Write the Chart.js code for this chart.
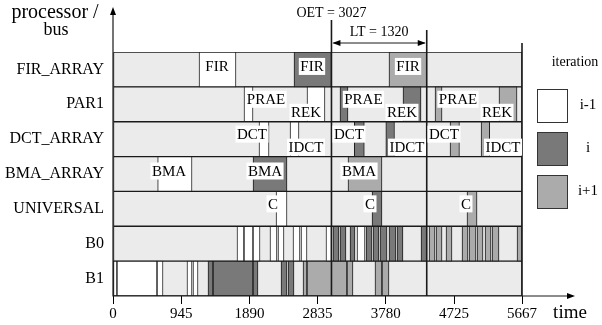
<!DOCTYPE html>
<html>
<head>
<meta charset="utf-8">
<script src="https://cdn.jsdelivr.net/npm/chart.js@4.4.0/dist/chart.umd.min.js"></script>
<style>
  html, body { margin: 0; padding: 0; background: #fff; }
  #wrap { width: 602px; height: 325px; }
</style>
</head>
<body>
<div id="wrap"><canvas id="gantt"></canvas></div>
<script>
// processors / buses and time axis
const rows = ['FIR_ARRAY', 'PAR1', 'DCT_ARRAY', 'BMA_ARRAY', 'UNIVERSAL', 'B0', 'B1'];
const xTicks = [0, 945, 1890, 2835, 3780, 4725, 5667];
const scheduleEnd = 5667;
const oet = 3027;
const lt = 1320;

// [row, start, end] for each iteration
const iterPrev = [
    ['FIR_ARRAY', 1192, 1704],
    ['PAR1', 1815, 1940], ['PAR1', 2688, 2937],
    ['DCT_ARRAY', 2023, 2162], ['DCT_ARRAY', 2453, 2577],
    ['BMA_ARRAY', 619, 1095],
    ['UNIVERSAL', 2259, 2411],
    ['B0', 1718, 1815], ['B0', 1815, 1940], ['B0', 1940, 2037], ['B0', 2175, 2272],
    ['B0', 2286, 2369], ['B0', 2494, 2591], ['B0', 2605, 2688], ['B0', 2951, 3027],
    ['B0', 3381, 3492],
    ['B1', 0, 55], ['B1', 55, 610], ['B1', 610, 693], ['B1', 1025, 1095], ['B1', 1108, 1178]
];
const iterCur = [
    ['FIR_ARRAY', 2508, 3027],
    ['PAR1', 3145, 3256], ['PAR1', 4018, 4268],
    ['DCT_ARRAY', 3343, 3482], ['DCT_ARRAY', 3780, 3900],
    ['BMA_ARRAY', 1940, 2411],
    ['UNIVERSAL', 3589, 3727],
    ['B0', 3048, 3131], ['B0', 3145, 3228], ['B0', 3284, 3353], ['B0', 3506, 3589],
    ['B0', 3603, 3685], ['B0', 3699, 3797], ['B0', 3824, 3921], ['B0', 3935, 4018],
    ['B0', 4268, 4347],
    ['B1', 1316, 1386], ['B1', 1386, 1940], ['B1', 1940, 2009], ['B1', 2328, 2411], ['B1', 2425, 2508]
];
const iterNext = [
    ['FIR_ARRAY', 3824, 4347],
    ['PAR1', 4462, 4559], ['PAR1', 5348, 5598],
    ['DCT_ARRAY', 4670, 4800], ['DCT_ARRAY', 5100, 5220],
    ['BMA_ARRAY', 3256, 3727],
    ['UNIVERSAL', 4905, 5044],
    ['B0', 4379, 4462], ['B0', 4476, 4559], ['B0', 4614, 4697], ['B0', 4836, 4919],
    ['B0', 4933, 5030], ['B0', 5044, 5127], ['B0', 5155, 5238], ['B0', 5252, 5348],
    ['B0', 5598, 5667],
    ['B1', 2633, 2688], ['B1', 2688, 3242], ['B1', 3242, 3325], ['B1', 3630, 3727], ['B1', 3727, 3824]
];

// task names: [text, time, row, place]
const taskLabels = [
    ['FIR', 1441, 'FIR_ARRAY', 'mid'], ['FIR', 2757, 'FIR_ARRAY', 'mid'], ['FIR', 4088, 'FIR_ARRAY', 'mid'],
    ['PRAE', 2120, 'PAR1', 'top'], ['REK', 2674, 'PAR1', 'bot'],
    ['PRAE', 3470, 'PAR1', 'top'], ['REK', 4004, 'PAR1', 'bot'],
    ['PRAE', 4780, 'PAR1', 'top'], ['REK', 5321, 'PAR1', 'bot'],
    ['DCT', 1926, 'DCT_ARRAY', 'top'], ['IDCT', 2674, 'DCT_ARRAY', 'bot'],
    ['DCT', 3270, 'DCT_ARRAY', 'top'], ['IDCT', 4074, 'DCT_ARRAY', 'bot'],
    ['DCT', 4586, 'DCT_ARRAY', 'top'], ['IDCT', 5404, 'DCT_ARRAY', 'bot'],
    ['BMA', 776, 'BMA_ARRAY', 'mid'], ['BMA', 2106, 'BMA_ARRAY', 'mid'], ['BMA', 3409, 'BMA_ARRAY', 'mid'],
    ['C', 2217, 'UNIVERSAL', 'top'], ['C', 3561, 'UNIVERSAL', 'top'], ['C', 4891, 'UNIVERSAL', 'top']
];

const SERIF = '"Liberation Serif", "DejaVu Serif", serif';
const LINE = '#1a1a1a';
const COL_IDLE = '#ebebeb', COL_PREV = '#ffffff', COL_CUR = '#797979', COL_NEXT = '#ababab';

function toBars(list) {
    return list.map(s => ({ y: s[0], x: [s[1], s[2]] }));
}

function arrowHead(ctx, x, y, dir) {
    ctx.beginPath();
    if (dir === 'up') { ctx.moveTo(x, y); ctx.lineTo(x - 3, y + 8); ctx.lineTo(x + 3, y + 8); }
    if (dir === 'right') { ctx.moveTo(x, y); ctx.lineTo(x - 8, y - 3); ctx.lineTo(x - 8, y + 3); }
    if (dir === 'left') { ctx.moveTo(x, y); ctx.lineTo(x + 8, y - 3); ctx.lineTo(x + 8, y + 3); }
    ctx.closePath();
    ctx.fill();
}

const overlay = {
    id: 'overlay',
    afterDatasetsDraw(chart) {
        const ctx = chart.ctx;
        const xs = chart.scales.x, ys = chart.scales.y;
        const area = chart.chartArea;
        const px = v => xs.getPixelForValue(v);
        ctx.save();
        ctx.strokeStyle = LINE;
        ctx.fillStyle = '#000';

        // marker lines
        ctx.lineWidth = 1.6;
        [[oet, 20], [oet + lt, 30], [scheduleEnd, 43]].forEach(([v, top]) => {
            ctx.beginPath();
            ctx.moveTo(px(v), top);
            ctx.lineTo(px(v), area.bottom);
            ctx.stroke();
        });

        // LT arrow
        ctx.lineWidth = 1;
        ctx.beginPath();
        ctx.moveTo(px(oet) + 2, 43);
        ctx.lineTo(px(oet + lt) - 2, 43);
        ctx.stroke();
        arrowHead(ctx, px(oet) + 1, 43, 'left');
        arrowHead(ctx, px(oet + lt) - 1, 43, 'right');

        ctx.font = '14px ' + SERIF;
        ctx.textAlign = 'center';
        ctx.textBaseline = 'middle';
        ctx.fillText('OET = ' + oet, px(oet), 13);
        ctx.fillText('LT = ' + lt, (px(oet) + px(oet + lt)) / 2, 32);

        // task names on white plates
        ctx.font = '15px ' + SERIF;
        const shift = { top: -5, mid: -3, bot: 8 };
        taskLabels.forEach(([text, t, row, place]) => {
            const cx = px(t);
            const cy = ys.getPixelForValue(rows.indexOf(row)) + shift[place];
            const w = ctx.measureText(text).width + 3;
            ctx.fillStyle = '#fff';
            ctx.fillRect(cx - w / 2, cy - 8.5, w, 17);
            ctx.fillStyle = '#000';
            ctx.fillText(text, cx, cy + 1);
        });

        // axes with arrows
        ctx.lineWidth = 1.2;
        ctx.beginPath();
        ctx.moveTo(area.left, 12);
        ctx.lineTo(area.left, area.bottom);
        ctx.lineTo(573, area.bottom);
        ctx.stroke();
        arrowHead(ctx, area.left, 7, 'up');
        arrowHead(ctx, 575, area.bottom, 'right');

        ctx.font = '20px ' + SERIF;
        ctx.fillText('processor /', 55, 13);
        ctx.font = '18px ' + SERIF;
        ctx.fillText('bus', 56, 30);
        ctx.font = '19px ' + SERIF;
        ctx.fillText('time', 570, 313);

        // iteration legend
        ctx.font = '14px ' + SERIF;
        ctx.fillText('iteration', 575, 62);
        ctx.font = '15px ' + SERIF;
        [[COL_PREV, 'i-1', 89], [COL_CUR, 'i', 132], [COL_NEXT, 'i+1', 175]].forEach(([c, t, y0]) => {
            ctx.fillStyle = c;
            ctx.fillRect(537, y0, 30, 33);
            ctx.strokeStyle = '#333';
            ctx.lineWidth = 1;
            ctx.strokeRect(537.5, y0 + 0.5, 30, 33);
            ctx.fillStyle = '#000';
            ctx.fillText(t, 588, y0 + 16);
        });
        ctx.restore();
    }
};

const barStyle = { borderColor: LINE, borderWidth: 1, borderSkipped: false };

// first dataset is painted last, so the idle background goes at the end
new Chart(document.getElementById('gantt').getContext('2d'), {
    type: 'bar',
    data: {
        labels: rows,
        datasets: [
            { label: 'i-1', data: toBars(iterPrev), backgroundColor: COL_PREV, ...barStyle },
            { label: 'i', data: toBars(iterCur), backgroundColor: COL_CUR, ...barStyle },
            { label: 'i+1', data: toBars(iterNext), backgroundColor: COL_NEXT, ...barStyle },
            { label: 'idle', data: rows.map(r => ({ y: r, x: [0, scheduleEnd] })), backgroundColor: COL_IDLE, ...barStyle }
        ]
    },
    options: {
        indexAxis: 'y',
        responsive: true,
        maintainAspectRatio: false,
        animation: false,
        layout: { padding: { top: 52, right: 80, bottom: 0, left: 0 } },
        datasets: { bar: { grouped: false, categoryPercentage: 1, barPercentage: 1 } },
        plugins: { legend: { display: false }, tooltip: { enabled: false } },
        scales: {
            x: {
                type: 'linear',
                min: 0,
                max: scheduleEnd,
                afterBuildTicks: s => { s.ticks = xTicks.map(v => ({ value: v })); },
                afterFit: s => { s.height = 29; },
                grid: { drawOnChartArea: false, tickLength: 8, color: '#000', tickWidth: 1 },
                border: { display: false },
                ticks: {
                    color: '#000', font: { family: SERIF, size: 15 }, padding: 1, maxRotation: 0, autoSkip: false,
                    callback: v => String(v)
                }
            },
            y: {
                afterFit: s => { s.width = 113; },
                grid: { display: false },
                border: { display: false },
                ticks: { color: '#000', font: { family: SERIF, size: 16 }, padding: 1 }
            }
        }
    },
    plugins: [overlay]
});
</script>
</body>
</html>
